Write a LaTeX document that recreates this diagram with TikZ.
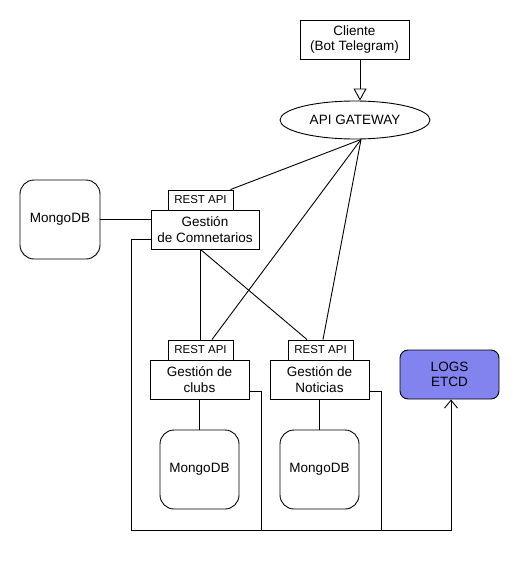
\documentclass[tikz,border=0pt]{standalone}
\usepackage{fontspec}
\setmainfont{Liberation Sans}
\usepackage{tikz}
\usetikzlibrary{shapes.geometric}
\usetikzlibrary{arrows}
\usetikzlibrary{arrows.meta}
\usetikzlibrary{positioning}
\definecolor{LogsFill}{HTML}{8383F0}

\begin{document}
\begin{tikzpicture}[x=1pt, y=-1pt, line width=0.9pt,
    box/.style={draw, rectangle, align=center, inner sep=0pt,
      font=\fontsize{13.5}{15.5}\selectfont},
    restbox/.style={draw, rectangle, inner sep=0pt, minimum width=65pt,
      minimum height=20pt, font=\fontsize{11.5}{13}\selectfont},
    mongo/.style={draw, rectangle, rounded corners=14pt, inner sep=0pt,
      minimum width=79pt, minimum height=79pt,
      font=\fontsize{13.5}{15.5}\selectfont}]
    \useasboundingbox (0,0) rectangle (520,570);
    % cliente y gateway
    \node[box, minimum width=109pt, minimum height=39pt] (cliente) at (354.5,39.5)
    {Cliente\\(Bot Telegram)};
    \node[draw, ellipse, inner sep=0pt, minimum width=150pt, minimum height=38pt,
      font=\fontsize{13.5}{15.5}\selectfont] (gateway) at (355,120) {API GATEWAY};
    \coordinate (gw) at (361,139.5);
    % servicios
    \node[box, minimum width=108pt, minimum height=39pt] (gcom) at (205,229.5)
    {Gestión\\de Comnetarios};
    \node[restbox] (restcom) at (200.5,200) {REST API};
    \node[mongo, minimum width=80pt] (mongocom) at (60,219.5) {MongoDB};
    \node[box, minimum width=99pt, minimum height=39pt] (gclubs) at (199.5,379.5)
    {Gestión de\\clubs};
    \node[restbox] (restclubs) at (200.5,350) {REST API};
    \node[mongo] (mongoclubs) at (199.5,469.5) {MongoDB};
    \node[box, minimum width=99pt, minimum height=39pt] (gnot) at (319.5,379.5)
    {Gestión de\\Noticias};
    \node[restbox] (restnot) at (320.5,350) {REST API};
    \node[mongo] (mongonot) at (319.5,469.5) {MongoDB};
    \node[draw, fill=LogsFill, rounded corners=8pt, align=center, inner sep=0pt,
      minimum width=99pt, minimum height=49pt,
      font=\fontsize{13.5}{15.5}\selectfont] (logs) at (449.5,374.5) {LOGS\\ETCD};
    \coordinate (bus) at (131,530);
    % conexiones
    \draw[-{Triangle[open, length=12pt, width=13pt]}] ([xshift=5.5pt]cliente.south)
    -- ([xshift=5pt]gateway.north);
    \draw (gw) -- ([xshift=-3pt]restcom.north east);
    \draw (gw) -- ([xshift=11.5pt]restclubs.north);
    \draw (gw) -- ([xshift=2.5pt]restnot.north);
    \draw (restclubs.north |- gcom.south) -- (restclubs.north);
    \draw (restclubs.north |- gcom.south) -- ([xshift=-13.5pt]restnot.north);
    \draw (mongocom.east) -- (mongocom.east -| gcom.west);
    \draw (gclubs.south) -- (mongoclubs.north);
    \draw (gnot.south) -- (mongonot.north);
    \draw[-{Straight Barb[length=8pt, width=13pt]}] ([yshift=10.5pt]gcom.south west)
    -| (bus) -| ([xshift=1.5pt]logs.south);
    \draw ([yshift=8pt]gclubs.south east) -| ([xshift=11.5pt]gclubs.east |- bus);
    \draw ([yshift=8pt]gnot.south east) -| ([xshift=11.5pt]gnot.east |- bus);
  \end{tikzpicture}
\end{document}
